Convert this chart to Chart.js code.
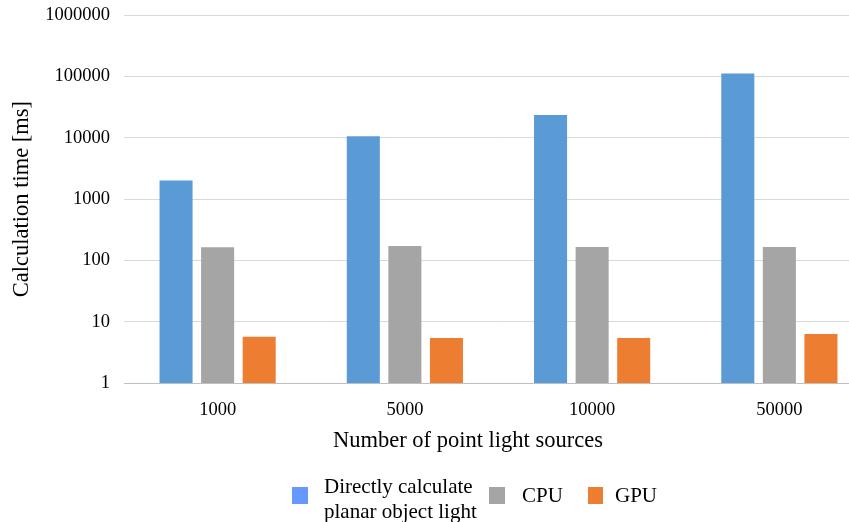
<!DOCTYPE html>
<html>
<head>
<meta charset="utf-8">
<script src="https://cdn.jsdelivr.net/npm/chart.js@4.4.1/dist/chart.umd.min.js"></script>
<style>
  html, body { margin: 0; padding: 0; background: #fff; overflow: hidden; }
  #wrap { position: relative; width: 849px; height: 522px; overflow: hidden; }
  #chart { position: absolute; left: 0; top: -10px; }
  .txt { position: absolute; font-family: "Liberation Serif", "Times New Roman", serif; color: #000; white-space: nowrap; }
  .sw { position: absolute; }
</style>
</head>
<body>
<div id="wrap">
  <canvas id="chart" width="875" height="522"></canvas>
  <div class="txt" id="xtitle" style="left:333px; top:426px; font-size:22.5px; line-height:27px;">Number of point light sources</div>
  <div class="sw" style="left:292px; top:487px; width:16px; height:17px; background:#6699FF;"></div>
  <div class="txt" style="left:324px; top:474px; font-size:21px; line-height:25px;">Directly calculate<br>planar object light</div>
  <div class="sw" style="left:489px; top:487px; width:16px; height:17px; background:#A5A5A5;"></div>
  <div class="txt" style="left:522px; top:483px; font-size:21px; line-height:25px;">CPU</div>
  <div class="sw" style="left:588px; top:487px; width:15px; height:17px; background:#ED7D31;"></div>
  <div class="txt" style="left:615px; top:483px; font-size:21px; line-height:25px;">GPU</div>
</div>
<script>
// Number of point light sources on the x axis
const categories = ['1000', '5000', '10000', '50000'];
// Calculation time in milliseconds for each method
const directValues = [2000, 10600, 23500, 112000];
const cpuValues = [163, 172, 165, 165];
const gpuValues = [5.7, 5.4, 5.4, 6.3];
// Decade ticks shown on the logarithmic y axis
const yTicks = [1, 10, 100, 1000, 10000, 100000, 1000000];

const serif = '"Liberation Serif", "Times New Roman", serif';

new Chart(document.getElementById('chart'), {
  type: 'bar',
  data: {
    labels: categories,
    datasets: [
      { label: 'Directly calculate planar object light', data: directValues, backgroundColor: '#5B9BD5' },
      { label: 'CPU', data: cpuValues, backgroundColor: '#A5A5A5' },
      { label: 'GPU', data: gpuValues, backgroundColor: '#ED7D31' }
    ]
  },
  options: {
    responsive: false,
    animation: false,
    devicePixelRatio: 1,
    datasets: { bar: { categoryPercentage: 0.666, barPercentage: 0.795 } },
    layout: { padding: { top: 4, right: 2, bottom: 0, left: 0 } },
    plugins: { legend: { display: false }, tooltip: { enabled: false } },
    scales: {
      x: {
        grid: { display: false },
        border: { display: true, color: '#BFBFBF', width: 1 },
        ticks: { color: '#000', padding: 8, font: { family: serif, size: 18.5 } },
        afterFit: s => { s.height = 129; }
      },
      y: {
        type: 'logarithmic',
        min: 1,
        max: 1000000,
        afterBuildTicks: s => { s.ticks = yTicks.map(v => ({ value: v })); },
        grid: { color: '#D9D9D9', lineWidth: 1, drawTicks: false },
        border: { display: false },
        ticks: {
          color: '#000',
          padding: 14,
          font: { family: serif, size: 18.5 },
          callback: v => String(v)
        },
        title: {
          display: true,
          text: 'Calculation time [ms]',
          color: '#000',
          font: { family: serif, size: 22.5 },
          padding: { top: 8.5, bottom: 0 }
        },
        afterFit: s => { s.width = 124; }
      }
    }
  }
});
</script>
</body>
</html>
